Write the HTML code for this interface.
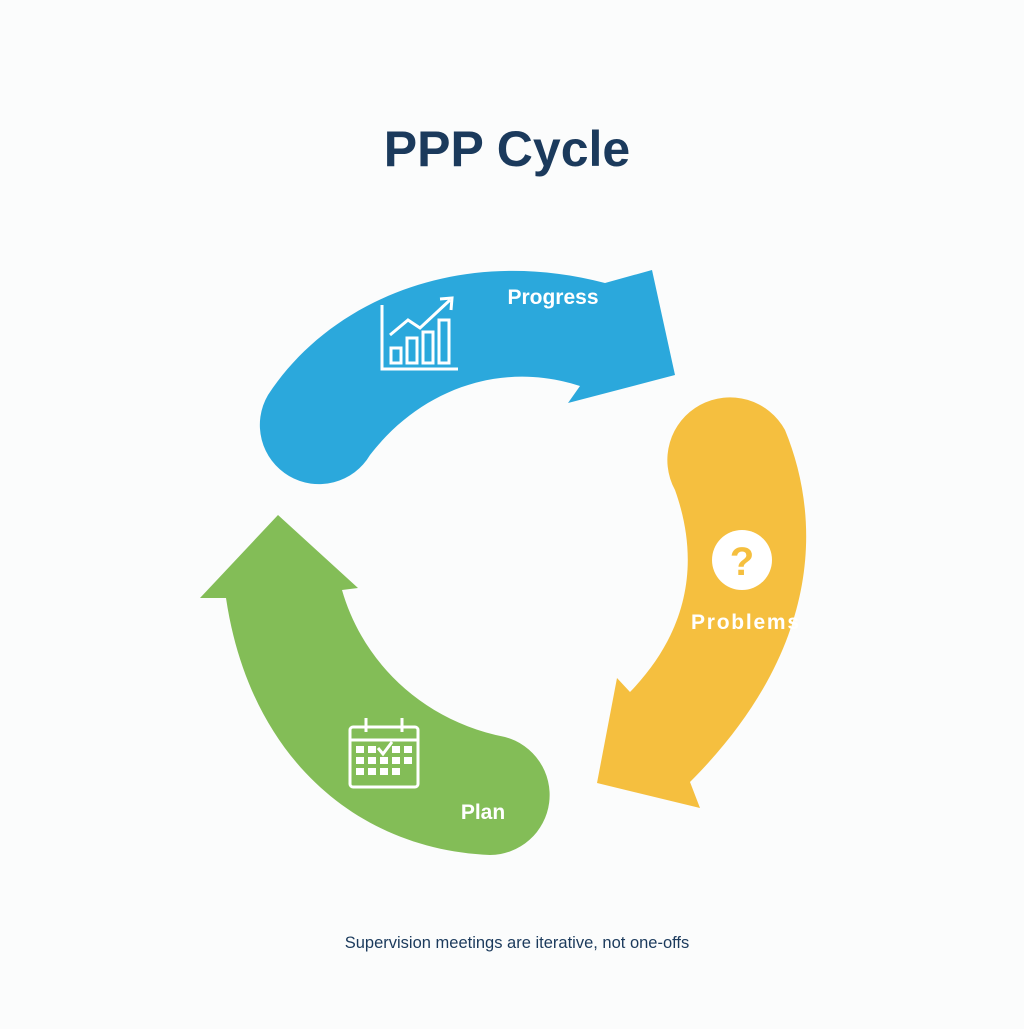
<!DOCTYPE html>
<html><head><meta charset="utf-8"><style>
html,body{margin:0;padding:0;background:#fbfcfc;}
body{width:1024px;height:1024px;overflow:hidden;font-family:"Liberation Sans",sans-serif;}
</style></head><body>
<svg width="1024" height="1024" viewBox="0 0 1024 1024" xmlns="http://www.w3.org/2000/svg">
<rect width="1024" height="1024" fill="#fbfcfc"/>
<text x="507" y="166" text-anchor="middle" font-family="Liberation Sans, sans-serif" font-weight="bold" font-size="50" fill="#1b3a5c">PPP Cycle</text>

<path d="M 268 395 C 330 300 460 245 605 283 L 652 270 L 675 375 L 568 403 L 580 386 C 500 360 420 390 370 455 A 55 55 0 0 1 268 395 Z" fill="#2ba8dc"/>
<path d="M 785 430 C 822 520 822 650 690 782 L 700 808 L 597 783 L 617 678 L 630 692 C 690 630 700 560 675 490 A 57 57 0 0 1 785 430 Z" fill="#f5bf3f"/>
<path d="M 226 598 L 200 598 L 278 515 L 358 588 L 342 590 C 362 660 420 720 505 737 A 60 60 0 0 1 490 855 C 360 850 250 760 226 598 Z" fill="#83bd57"/>

<text x="553" y="304" text-anchor="middle" font-weight="bold" font-size="21" fill="#fff">Progress</text>
<text x="745" y="629" text-anchor="middle" font-weight="bold" font-size="21" fill="#fff" textLength="108">Problems</text>
<text x="483" y="819" text-anchor="middle" font-weight="bold" font-size="21" fill="#fff">Plan</text>

<g stroke="#fff" stroke-width="3" fill="none">
<path d="M382 305 V369 H458"/>
<rect x="391" y="348" width="10" height="15"/>
<rect x="407" y="338" width="10" height="25"/>
<rect x="423" y="332" width="10" height="31"/>
<rect x="439" y="320" width="10" height="43"/>
<path d="M390 335 L408 320 L420 328 L450 300"/>
<path d="M440 299 L452 298 L451 310"/>
</g>
<circle cx="742" cy="560" r="30" fill="#fff"/>
<text x="742" y="575" text-anchor="middle" font-weight="bold" font-size="40" fill="#f5bf3f">?</text>
<g stroke="#fff" stroke-width="3" fill="none">
<rect x="350" y="727" width="68" height="60" rx="3"/>
<line x1="350" y1="740" x2="418" y2="740"/>
<line x1="366" y1="718" x2="366" y2="732"/>
<line x1="402" y1="718" x2="402" y2="732"/>
</g>
<g fill="#fff">
<rect x="356" y="746" width="8" height="7"/><rect x="368" y="746" width="8" height="7"/><rect x="392" y="746" width="8" height="7"/><rect x="404" y="746" width="8" height="7"/>
<rect x="356" y="757" width="8" height="7"/><rect x="368" y="757" width="8" height="7"/><rect x="380" y="757" width="8" height="7"/><rect x="392" y="757" width="8" height="7"/><rect x="404" y="757" width="8" height="7"/>
<rect x="356" y="768" width="8" height="7"/><rect x="368" y="768" width="8" height="7"/><rect x="380" y="768" width="8" height="7"/><rect x="392" y="768" width="8" height="7"/>
</g>
<path d="M378 748 L383 754 L392 742" stroke="#fff" stroke-width="3" fill="none"/>

<text x="517" y="948" text-anchor="middle" font-size="16.5" fill="#1b3a5c">Supervision meetings are iterative, not one-offs</text>
</svg>
</body></html>
